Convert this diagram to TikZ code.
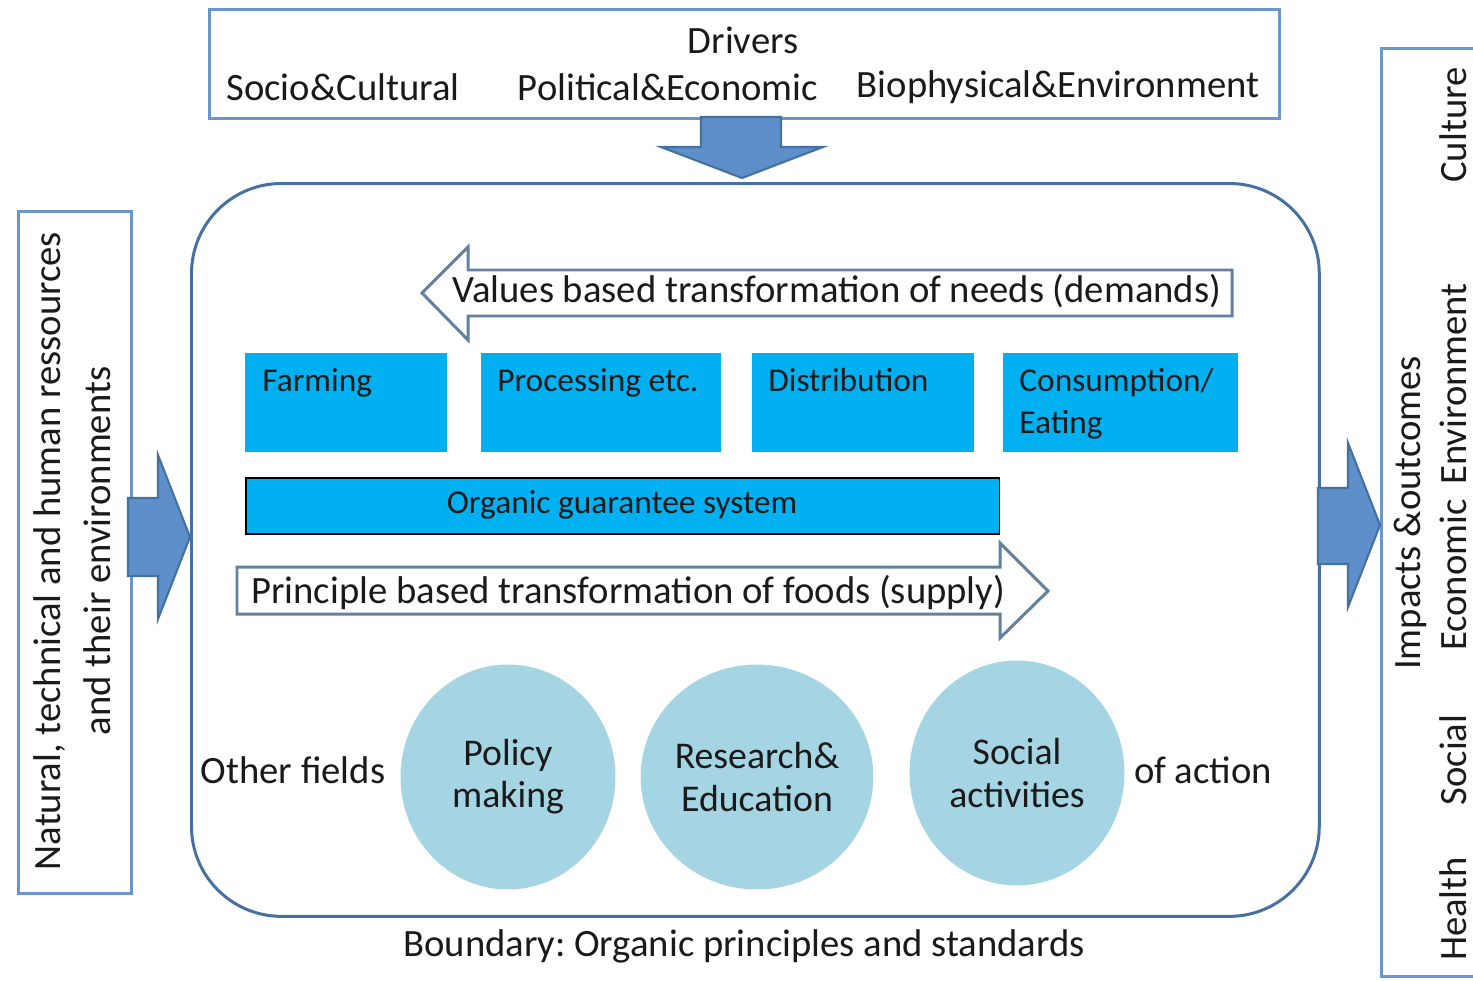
\documentclass[tikz,border=0pt]{standalone}
\usepackage{fontspec}
\setmainfont{Carlito}
\usetikzlibrary{shapes.geometric}
\definecolor{bbord}{HTML}{6A96CD}
\definecolor{mbord}{HTML}{46709F}
\definecolor{afill}{HTML}{5E8FCB}
\definecolor{aedge}{HTML}{44729F}
\definecolor{cyanbox}{HTML}{00B0F0}
\definecolor{circ}{HTML}{A5D5E3}
\definecolor{wedge}{HTML}{62809F}
\definecolor{ink}{HTML}{1A1A1A}
\frenchspacing
\begin{document}
\begin{tikzpicture}[x=0.02cm,y=-0.02cm,
  frame/.style={draw=bbord,line width=1.7pt,fill=white,anchor=north west,inner sep=0pt},
  bigtxt/.style={font=\fontsize{22}{25}\selectfont,text=ink,inner sep=0pt},
  boxtxt/.style={font=\fontsize{19}{24}\selectfont,text=ink},
  stage/.style={fill=cyanbox,anchor=north west,inner sep=0pt,minimum height=1.98cm},
  blockarrow/.style={fill=afill,draw=aedge,line width=1.2pt,line join=miter},
  hollowarrow/.style={fill=white,draw=wedge,line width=1.7pt,line join=miter},
  field/.style={ellipse,fill=circ,inner sep=0pt,minimum width=4.3cm,minimum height=4.5cm,
     align=center,font=\fontsize{21.5}{24}\selectfont,text=ink}
]
\useasboundingbox (0,0) rectangle (1473,980);
\fill[white] (0,0) rectangle (1473,980);

% frames
\node[frame,minimum width=21.4cm,minimum height=2.18cm] (drivers) at (208,8) {};
\node[frame,draw=mbord,rounded corners=1.8cm,minimum width=22.56cm,minimum height=14.66cm] (system) at (190,182) {};
\node[frame,minimum width=2.26cm,minimum height=13.64cm] (resources) at (17,210) {};
\node[frame,minimum width=2.4cm,minimum height=18.56cm] (impacts) at (1380,47) {};

% driver texts
\node[bigtxt] (drv) at (743,40) {Drivers};
\node[bigtxt] (soc) at (343,87) {Socio\&Cultural};
\node[bigtxt] (pol) at (668,87) {Political\&Economic};
\node[bigtxt] (bio) at (1058,87) {Biophysical\&Environment};

% block arrows
\draw[blockarrow] (701,117) -- (781,117) -- (781,147) -- (823,147) -- (742,178) -- (661,147) -- (701,147) -- cycle;
\draw[blockarrow] (128,498) -- (158,498) -- (158,455) -- (190,537) -- (158,619) -- (158,576) -- (128,576) -- cycle;
\draw[blockarrow] (1318,488) -- (1348,488) -- (1348,443) -- (1380,525) -- (1348,607) -- (1348,564) -- (1318,564) -- cycle;

% left text
\node[bigtxt,rotate=90] (res1) at (50,551) {Natural, technical and human ressources};
\node[bigtxt,rotate=90] (res2) at (97,551) {and their environments};

% right texts
\node[bigtxt,rotate=90] (imp) at (1410,513) {Impacts \&outcomes};
\node[bigtxt,rotate=90] (cul) at (1453,125) {Culture};
\node[bigtxt,rotate=90] (env) at (1453,384) {Environment};
\node[bigtxt,rotate=90] (eco) at (1453,575) {Economic};
\node[bigtxt,rotate=90] (sol) at (1453,760) {Social};
\node[bigtxt,rotate=90] (hea) at (1453,909) {Health};

% hollow arrows
\draw[hollowarrow] (1232,270) -- (1232,316) -- (468,316) -- (468,340) -- (422,293) -- (468,247) -- (468,270) -- cycle;
\node[bigtxt,anchor=west] (values) at (452,291) {Values based transformation of needs (demands)};
\draw[hollowarrow] (237,567) -- (1000,567) -- (1000,543) -- (1048,591) -- (1000,638) -- (1000,614) -- (237,614) -- cycle;
\node[bigtxt,anchor=west] (principle) at (251,592) {Principle based transformation of foods (supply)};

% stages
\node[stage,minimum width=4.04cm] (farm) at (245,353) {};
\node[boxtxt,anchor=north west,inner sep=0pt] at (262,368) {Farming};
\node[stage,minimum width=4.8cm] (proc) at (481,353) {};
\node[boxtxt,anchor=north west,inner sep=0pt] at (497,368) {Processing etc.};
\node[stage,minimum width=4.44cm] (dist) at (752,353) {};
\node[boxtxt,anchor=north west,inner sep=0pt] at (768,368) {Distribution};
\node[stage,minimum width=4.7cm] (cons) at (1003,353) {};
\node[boxtxt,anchor=north west,inner sep=0pt,align=left] at (1019,368) {Consumption/\\Eating};

\node[fill=cyanbox,draw=black,line width=0.9pt,anchor=north west,inner sep=0pt,minimum width=15.08cm,minimum height=1.12cm] (ogs) at (245,477) {};
\node[boxtxt,inner sep=0pt] at (622,505) {Organic guarantee system};

% fields of action
\node[bigtxt] (other) at (293,770) {Other fields};
\node[field] (policy) at (508,777) {Policy\\making};
\node[field] (research) at (757,777) {Research\&\\Education};
\node[field] (social) at (1017,773) {Social\\activities};
\node[bigtxt] (ofaction) at (1203,770) {of action};

\node[bigtxt] (boundary) at (744,946) {Boundary: Organic principles and standards};
\end{tikzpicture}
\end{document}
